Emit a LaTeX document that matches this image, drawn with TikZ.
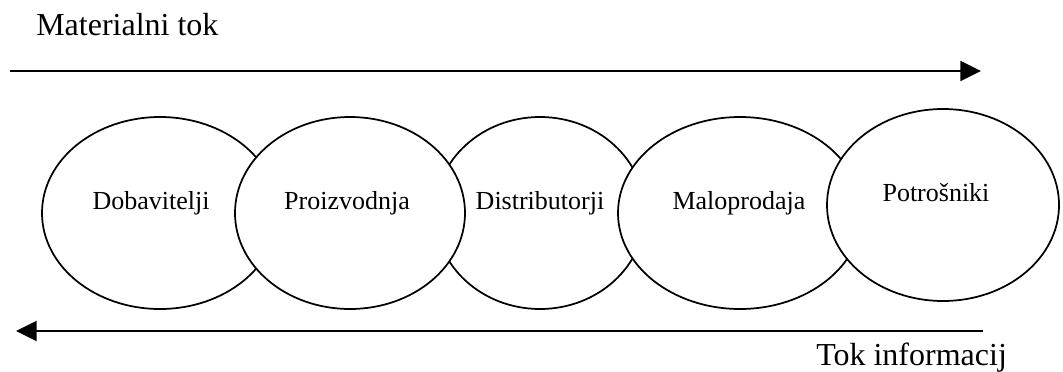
\documentclass[tikz,border=0pt]{standalone}
\usepackage{fontspec}
\setmainfont{Liberation Serif}
\usetikzlibrary{arrows.meta,shapes.geometric}
\begin{document}
\begin{tikzpicture}[x=0.75pt,y=-0.75pt,
  stage/.style={draw, line width=1.3pt, fill=white, ellipse, inner sep=0pt, minimum height=144pt},
  stagetext/.style={font=\fontsize{19.5}{23}\selectfont, anchor=base, inner sep=0pt},
  flowtext/.style={font=\fontsize{24}{28}\selectfont, anchor=base west, inner sep=0pt},
  flow/.style={line width=1.5pt, -{Triangle[length=15.5pt,width=15pt]}}]
\useasboundingbox (0,0) rectangle (1063,371);

% supply chain stages, overlapping ellipses (later ones drawn on top)
\node[stage, minimum width=177pt]   (dob)  at (160,213) {};
\node[stage, minimum width=157.5pt] (dist) at (540,213) {};
\node[stage, minimum width=172.5pt] (pro)  at (350,213) {};
\node[stage, minimum width=183pt]   (malo) at (740,213) {};
\node[stage, minimum width=174pt]   (potr) at (943,205) {};

% stage labels
\node[stagetext] (tdob)  at (151,209) {Dobavitelji};
\node[stagetext] (tpro)  at (347,209) {Proizvodnja};
\node[stagetext] (tdist) at (540,209) {Distributorji};
\node[stagetext] (tmalo) at (739,209) {Maloprodaja};
\node[stagetext] (tpotr) at (936,201) {Potrošniki};

% material flow (forward) and information flow (backward)
\coordinate (mstart) at (10,71);
\coordinate (mend) at (981,71);
\draw[flow] (mstart) -- (mend);
\coordinate (istart) at (983,331);
\coordinate (iend) at (16,331);
\draw[flow] (istart) -- (iend);

\node[flowtext] (mat) at (36,36) {Materialni tok};
\node[flowtext] (inf) at (816,365) {Tok informacij};
\end{tikzpicture}
\end{document}
